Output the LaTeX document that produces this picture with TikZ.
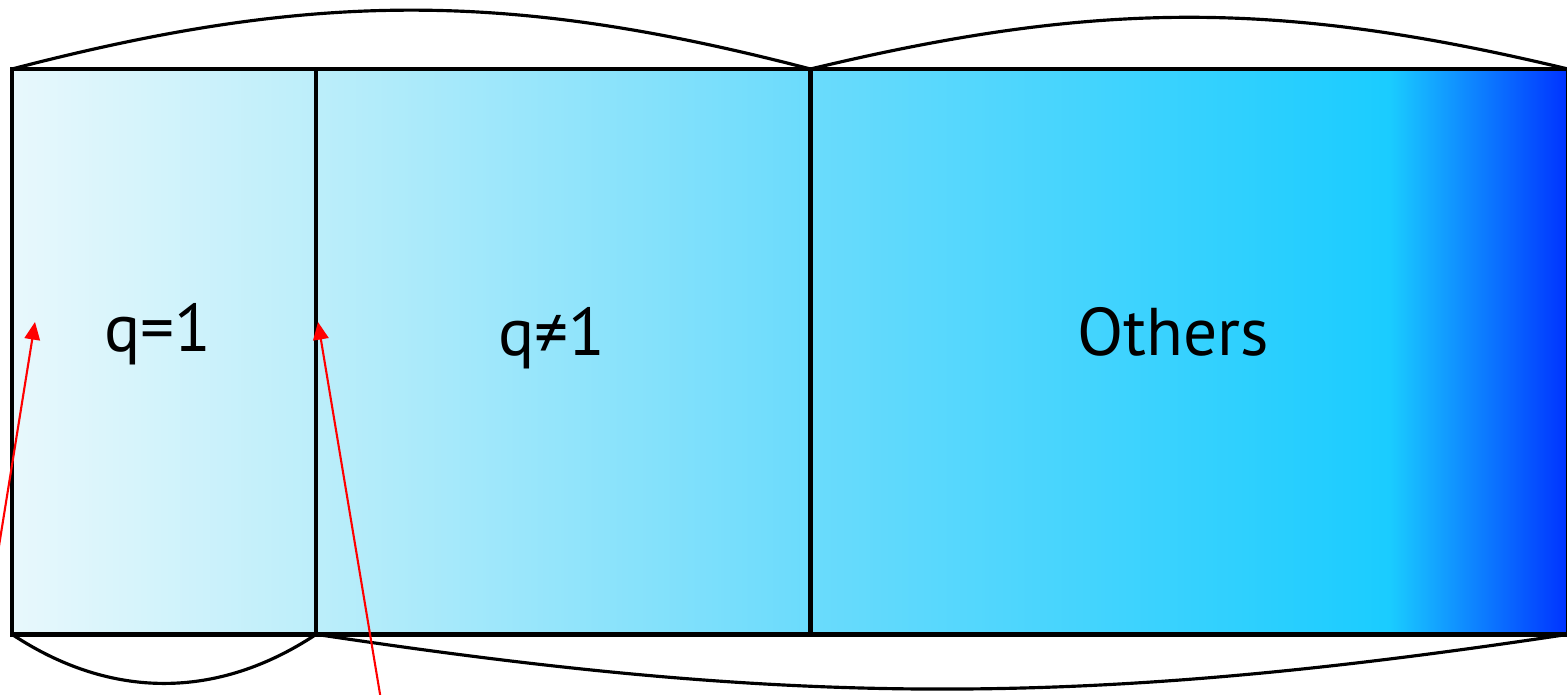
\documentclass[tikz,border=0pt]{standalone}
\usepackage{fontspec}
\setmainfont{PT Sans}
\usetikzlibrary{positioning, arrows.meta}

\definecolor{barA}{HTML}{E8F8FC}
\definecolor{barB}{HTML}{BCEEFA}
\definecolor{barC}{HTML}{6ADBFC}
\definecolor{barD}{HTML}{1ACCFF}
\definecolor{barE}{HTML}{0033FF}
\pgfdeclarehorizontalshading{barshade}{100bp}{color(0bp)=(barA); color(25bp)=(barA); color(34.8bp)=(barB); color(50.7bp)=(barC); color(69.3bp)=(barD); color(75bp)=(barE); color(100bp)=(barE)}

\begin{document}
\begin{tikzpicture}[x=0.01cm, y=-0.01cm, font=\fontsize{19.2}{23}\selectfont]
		
		% --- Stili ---
		\tikzset{
			cell/.style={draw=black, line width=1.3pt, inner sep=0pt, outer sep=0pt, minimum height=5.65cm, anchor=north west},
			celltext/.style={anchor=base, inner sep=0pt},
			span/.style={draw=black, line width=0.9pt},
			pointer/.style={draw=red, line width=0.6pt, -{Triangle[length=5pt, width=4.4pt]}}
		}
		
		\useasboundingbox (0,0) rectangle (1567,694);
		
		% --- Sfondo della barra ---
		\fill[shading=barshade] (12,69) rectangle (1567,634);
		
		% --- Celle ---
		\node[cell, minimum width=3.04cm] (qone) at (12,69) {};
		\node[cell, minimum width=4.94cm, right=0pt of qone] (qne) {};
		\node[cell, minimum width=7.57cm, right=0pt of qne] (others) {};
		
		% Testi
		\node[celltext] (tone) at (158,351) {q=1};
		\node[celltext] (tne) at (552,355) {q≠1};
		\node[celltext] (tothers) at (1173,355) {Others};
		
		% --- Archi sopra e sotto ---
		\draw[span] (qone.north west) to[bend left=14.6] (qne.north east);
		\draw[span] (others.north west) to[bend left=13.5] (others.north east);
		\draw[span] (qone.south west) to[bend right=33.5] (qone.south east);
		\draw[span] (qne.south west) to[bend right=8.6] (others.south east);
		
		% --- Frecce rosse ---
		\coordinate (tailA) at (-6,577);
		\coordinate (tipA) at (35,322);
		\draw[pointer] (tailA) -- (tipA);
		\coordinate (tailB) at (381,700);
		\coordinate (tipB) at (318,322);
		\draw[pointer] (tailB) -- (tipB);
		
	\end{tikzpicture}
\end{document}
